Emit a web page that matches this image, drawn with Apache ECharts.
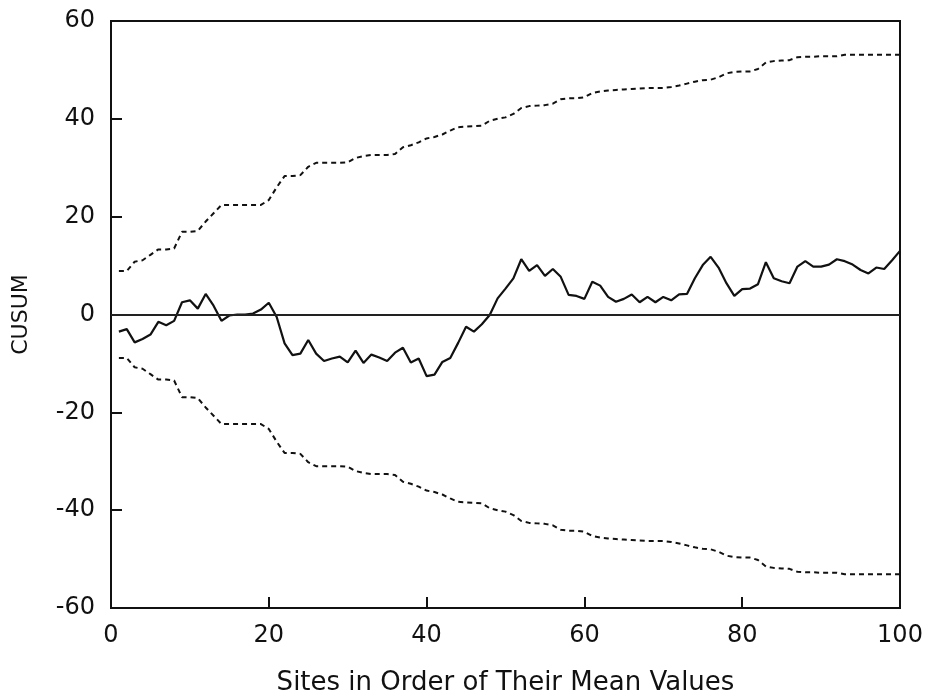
<!DOCTYPE html>
<html>
<head>
<meta charset="utf-8">
<style>
  html, body { margin: 0; padding: 0; background: #fff; }
  #chart { width: 926px; height: 695px; }
</style>
<script src="https://cdn.jsdelivr.net/npm/echarts@6/dist/echarts.min.js"></script>
</head>
<body>
<div id="chart"></div>
<script>
// CUSUM of site means, sites ranked by their mean value (site 1 .. 100)
const cusum = [
  -3.5, -3.0, -5.7, -5.0, -4.1, -1.5, -2.2, -1.3, 2.5, 2.9,
  1.2, 4.2, 1.8, -1.3, -0.2, 0.0, 0.0, 0.2, 1.0, 2.4,
  -0.5, -5.9, -8.3, -8.0, -5.2, -8.0, -9.5, -9.0, -8.6, -9.8,
  -7.4, -9.9, -8.2, -8.8, -9.5, -7.8, -6.8, -9.8, -9.0, -12.6,
  -12.3, -9.7, -8.9, -5.8, -2.5, -3.5, -2.0, -0.1, 3.3, 5.3,
  7.4, 11.3, 8.9, 10.1, 7.9, 9.3, 7.7, 4.0, 3.8, 3.2,
  6.7, 5.9, 3.6, 2.6, 3.2, 4.1, 2.5, 3.6, 2.5, 3.6,
  2.9, 4.1, 4.2, 7.4, 10.1, 11.8, 9.6, 6.4, 3.8, 5.2,
  5.3, 6.2, 10.7, 7.4, 6.8, 6.4, 9.8, 10.9, 9.8, 9.8,
  10.2, 11.3, 10.9, 10.2, 9.1, 8.4, 9.6, 9.3, 11.1, 13.0
];

// Upper and lower decision limits for each site
const upperLimit = [
  8.9, 8.9, 10.8, 11.1, 12.2, 13.3, 13.3, 13.5, 16.9, 16.9,
  17.1, 19.0, 20.7, 22.4, 22.4, 22.4, 22.4, 22.4, 22.4, 23.4,
  26.0, 28.3, 28.3, 28.5, 30.2, 31.0, 31.0, 31.0, 31.0, 31.1,
  32.0, 32.4, 32.6, 32.6, 32.6, 32.8, 34.2, 34.6, 35.2, 36.0,
  36.3, 36.8, 37.6, 38.3, 38.4, 38.5, 38.6, 39.6, 40.0, 40.3,
  41.0, 42.2, 42.6, 42.7, 42.8, 43.1, 44.0, 44.2, 44.2, 44.4,
  45.3, 45.6, 45.8, 45.9, 46.0, 46.1, 46.2, 46.3, 46.3, 46.3,
  46.5, 46.8, 47.2, 47.6, 47.9, 48.0, 48.5, 49.3, 49.6, 49.7,
  49.7, 50.2, 51.5, 51.8, 51.9, 52.0, 52.6, 52.7, 52.7, 52.8,
  52.8, 52.8, 53.1, 53.1, 53.1, 53.1, 53.1, 53.1, 53.1, 53.1
];
const lowerLimit = [
  -8.9, -8.9, -10.8, -11.1, -12.2, -13.3, -13.3, -13.5, -16.9, -16.9,
  -17.1, -19.0, -20.7, -22.4, -22.4, -22.4, -22.4, -22.4, -22.4, -23.4,
  -26.0, -28.3, -28.3, -28.5, -30.2, -31.0, -31.0, -31.0, -31.0, -31.1,
  -32.0, -32.4, -32.6, -32.6, -32.6, -32.8, -34.2, -34.6, -35.2, -36.0,
  -36.3, -36.8, -37.6, -38.3, -38.4, -38.5, -38.6, -39.6, -40.0, -40.3,
  -41.0, -42.2, -42.6, -42.7, -42.8, -43.1, -44.0, -44.2, -44.2, -44.4,
  -45.3, -45.6, -45.8, -45.9, -46.0, -46.1, -46.2, -46.3, -46.3, -46.3,
  -46.5, -46.8, -47.2, -47.6, -47.9, -48.0, -48.5, -49.3, -49.6, -49.7,
  -49.7, -50.2, -51.5, -51.8, -51.9, -52.0, -52.6, -52.7, -52.7, -52.8,
  -52.8, -52.8, -53.1, -53.1, -53.1, -53.1, -53.1, -53.1, -53.1, -53.1
];

// Site rank numbers 1..N
const sites = cusum.map((_, k) => k + 1);

const xTitle = 'Sites in Order of Their Mean Values';
const yTitle = 'CUSUM';

const pair = (arr) => arr.map((v, k) => [sites[k], v]);

const FONT = 'DejaVu Sans';
const INK = '#111';
const chart = echarts.init(document.getElementById('chart'), null, { renderer: 'canvas' });

chart.setOption({
  animation: false,
  backgroundColor: '#ffffff',
  grid: {
    left: 111, right: 26, top: 21, bottom: 87,
    outerBoundsMode: 'none', containLabel: false,
    show: true, borderColor: INK, borderWidth: 2, backgroundColor: 'transparent'
  },
  xAxis: {
    type: 'value', min: 0, max: 100, interval: 20,
    name: xTitle, nameLocation: 'middle', nameGap: 62,
    nameTextStyle: { fontFamily: FONT, fontSize: 26, color: INK },
    axisLine: { show: true, onZero: false, lineStyle: { color: INK, width: 2 } },
    axisTick: { show: true, inside: true, length: 11, lineStyle: { color: INK, width: 2 } },
    axisLabel: { fontFamily: FONT, fontSize: 24, color: INK, margin: 16 },
    splitLine: { show: false }
  },
  yAxis: {
    type: 'value', min: -60, max: 60, interval: 20,
    name: yTitle, nameLocation: 'middle', nameGap: 79, nameRotate: 90,
    nameTextStyle: { fontFamily: FONT, fontSize: 22, color: INK },
    axisLine: { show: true, onZero: false, lineStyle: { color: INK, width: 2 } },
    axisTick: { show: true, inside: true, length: 11, lineStyle: { color: INK, width: 2 } },
    axisLabel: { fontFamily: FONT, fontSize: 24, color: INK, margin: 16 },
    splitLine: { show: false }
  },
  series: [
    {
      name: 'Upper limit', type: 'line', data: pair(upperLimit),
      showSymbol: false, silent: true,
      lineStyle: { color: INK, width: 2, type: [5, 4] }
    },
    {
      name: 'Lower limit', type: 'line', data: pair(lowerLimit),
      showSymbol: false, silent: true,
      lineStyle: { color: INK, width: 2, type: [5, 4] }
    },
    {
      name: 'CUSUM', type: 'line', data: pair(cusum),
      showSymbol: false, silent: true, z: 3,
      lineStyle: { color: INK, width: 2.2 },
      markLine: {
        silent: true, symbol: 'none', label: { show: false },
        lineStyle: { color: '#222', width: 2, type: 'solid' },
        data: [{ yAxis: 0 }]
      }
    }
  ]
});
</script>
</body>
</html>
